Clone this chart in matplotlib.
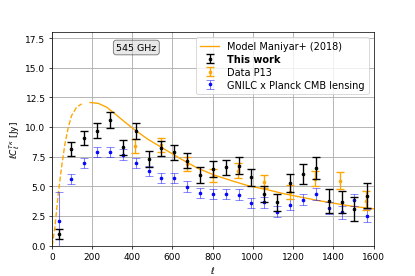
import numpy as np
import matplotlib.pyplot as plt

# Model Maniyar+ (2018)
ell_model = [2, 15, 32, 48, 65, 82, 98, 123, 148, 190, 231, 273, 315, 365, 406,
             475, 558, 641, 725, 808, 891, 975, 1075, 1158, 1250, 1325, 1400, 1492, 1600]
cl_model = [0.0, 1.55, 4.4, 6.6, 8.58, 10.0, 10.97, 11.68, 11.96, 12.08, 12.0, 11.68,
            11.1, 10.4, 9.85, 9.0, 8.16, 7.32, 6.53, 5.95, 5.49, 5.06, 4.7, 4.36,
            4.05, 3.8, 3.58, 3.32, 3.1]

# This work
ell_bins = [33, 97, 161, 225, 289, 353, 417, 481, 545, 609, 673, 737, 801, 865, 929,
            993, 1057, 1121, 1185, 1249, 1313, 1377, 1441, 1505, 1569]
cl_work = [0.96, 8.13, 9.09, 9.71, 10.6, 8.3, 9.67, 7.32, 8.2, 7.88, 7.17, 5.94, 6.44,
           6.6, 6.72, 5.75, 4.33, 3.66, 5.29, 6.03, 6.55, 3.76, 3.65, 3.07, 4.22]
err_work = [0.42, 0.58, 0.58, 0.6, 0.65, 0.65, 0.66, 0.66, 0.63, 0.63, 0.66, 0.65, 0.66,
            0.66, 0.72, 0.69, 0.68, 0.73, 0.79, 0.87, 0.89, 0.98, 0.94, 1.0, 1.04]

# Data P13
ell_p13 = [415, 545, 673, 800, 928, 1055, 1183, 1309, 1435, 1565]
cl_p13 = [8.4, 8.48, 6.9, 5.91, 6.33, 5.4, 4.5, 5.65, 5.49, 3.8]
err_p13 = [0.6, 0.58, 0.6, 0.58, 0.6, 0.58, 0.6, 0.65, 0.7, 0.78]

# GNILC x Planck CMB lensing
cl_gnilc = [2.03, 5.6, 7.0, 7.93, 7.88, 7.68, 6.98, 6.28, 5.71, 5.71, 4.98, 4.45, 4.34,
            4.36, 4.3, 3.6, 3.65, 2.85, 3.46, 3.87, 4.34, 3.18, 2.8, 3.85, 2.5]
err_gnilc = [2.5, 0.41, 0.43, 0.42, 0.42, 0.43, 0.43, 0.43, 0.43, 0.43, 0.43, 0.43, 0.44,
             0.44, 0.45, 0.45, 0.46, 0.47, 0.48, 0.48, 0.5, 0.5, 0.52, 0.52, 0.55]

fig, ax = plt.subplots(figsize=(6.4, 4.27), dpi=415 / 6.4)

ell_model = np.array(ell_model)
cl_model = np.array(cl_model)
low = ell_model <= 148
ax.plot(ell_model[low], cl_model[low], color="orange", ls="--", lw=1.5)
ax.plot(ell_model[~low], cl_model[~low], color="orange", lw=1.5, label="Model Maniyar+ (2018)")

ax.errorbar(ell_bins, cl_work, yerr=err_work, fmt=".", color="black", capsize=4,
            lw=1.5, capthick=1.5, label="This work", zorder=4)
ax.errorbar(ell_p13, cl_p13, yerr=err_p13, fmt=".", color="orange", capsize=4,
            lw=1.5, capthick=1.5, label="Data P13", zorder=3)
ax.errorbar(ell_bins, cl_gnilc, yerr=err_gnilc, fmt=".", color="blue", ecolor=(0, 0, 1, 0.5),
            capsize=4, lw=1.2, label="GNILC x Planck CMB lensing", zorder=2)

ax.text(0.2, 0.95, "545 GHz", transform=ax.transAxes, fontsize=10.5, va="top",
        bbox=dict(boxstyle="round", facecolor="lightgray", alpha=0.5))

ax.set_xlim(0, 1600)
ax.set_ylim(0, 18)
ax.set_yticks(np.arange(0, 17.6, 2.5))
ax.set_xlabel(r"$\ell$")
ax.set_ylabel(r"$\ell C_\ell^{T\kappa}$ [Jy]")
ax.grid(True, lw=1)
leg = ax.legend(loc="upper right", fontsize=10.8, labelspacing=0.3)
leg.get_texts()[1].set_fontweight("bold")

plt.savefig("out.png", dpi=415 / 6.4)
plt.close()
